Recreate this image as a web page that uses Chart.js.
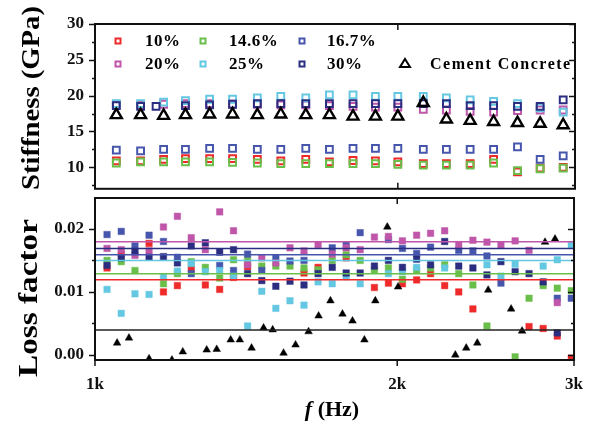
<!DOCTYPE html>
<html>
<head>
<meta charset="utf-8">
<title>Stiffness and loss factor vs frequency</title>
<script src="https://cdn.jsdelivr.net/npm/chart.js@4"></script>
<style>
  html, body { margin: 0; padding: 0; background: #fff; }
  #wrap { position: relative; width: 597px; height: 425px; }
  #wrap canvas { position: absolute; left: 0; top: 0; }
</style>
</head>
<body>
<div id="wrap">
  <canvas id="lossChart" width="597" height="425"></canvas>
  <canvas id="stiffChart" width="597" height="210"></canvas>
</div>
<script>
'use strict';

// ---- data
const seriesLabels = ['10%', '14.6%', '16.7%', '20%', '25%', '30%', 'Cement Concrete'];
const seriesColors = ['#ee2a2a', '#6abf4b', '#4656ac', '#bf56a9', '#64c8e2', '#2b2d80', '#000000'];

const freqTicks = [1000, 2000, 3000];
const stiffTicks = [10, 15, 20, 25, 30];
const stiffMinor = [7.5, 12.5, 17.5, 22.5, 27.5];
const lossTicks = [0, 0.01, 0.02];
const lossMinor = [0.005, 0.015];

// stiffness (GPa)
const stiffFreq = [1050, 1110, 1170, 1230, 1300, 1370, 1450, 1530, 1620, 1710, 1805, 1900, 2000, 2120, 2235, 2360, 2490, 2630, 2770, 2920];
const stiffFreq30 = [1050, 1110, 1150, 1230, 1300, 1370, 1450, 1530, 1620, 1710, 1805, 1900, 2000, 2120, 2235, 2360, 2490, 2630, 2770, 2920];
const stiff10 = [10.9, 10.9, 11.1, 11.2, 11.2, 11.2, 11.1, 10.9, 11.1, 10.75, 10.95, 10.9, 10.75, 10.5, 10.5, 10.5, 11.1, 9.35, 9.9, 10.0];
const stiff146 = [10.6, 10.75, 10.75, 10.75, 10.75, 10.7, 10.6, 10.5, 10.5, 10.5, 10.5, 10.5, 10.4, 10.3, 10.3, 10.3, 10.6, 9.55, 9.8, 9.9];
const stiff167 = [12.4, 12.3, 12.5, 12.5, 12.65, 12.65, 12.5, 12.5, 12.65, 12.5, 12.65, 12.65, 12.65, 12.5, 12.5, 12.5, 12.5, 12.85, 11.1, 11.6];
const stiff20 = [18.7, 18.7, 18.8, 18.9, 18.9, 18.8, 18.8, 18.7, 18.7, 18.6, 18.5, 18.4, 18.4, 18.1, 18.0, 17.8, 17.7, 17.9, 18.0, 18.0];
const stiff25 = [18.9, 18.9, 19.1, 19.3, 19.5, 19.5, 19.7, 19.9, 19.7, 20.1, 20.1, 19.9, 19.9, 19.9, 19.7, 19.4, 19.2, 18.9, 18.3, 17.7];
const stiff30 = [18.6, 18.5, 18.5, 18.6, 18.7, 18.8, 18.9, 18.9, 18.9, 18.9, 18.9, 18.9, 18.9, 18.9, 18.9, 18.6, 18.6, 18.5, 18.5, 19.4];
const stiffCement = [17.3, 17.3, 17.2, 17.3, 17.4, 17.4, 17.3, 17.4, 17.3, 17.3, 17.1, 17.1, 17.1, 19.0, 16.7, 16.5, 16.35, 16.2, 16.1, 15.9];

// loss factor
const lossFreq = [1028, 1062, 1096, 1132, 1170, 1208, 1247, 1288, 1331, 1374, 1419, 1466, 1514, 1564, 1615, 1668, 1723,
  1779, 1837, 1898, 1960, 2024, 2091, 2159, 2230, 2303, 2379, 2457, 2537, 2621, 2706, 2795, 2887, 2981];
const loss10 = [0.0138, 0.0160, null, 0.0177, 0.0100, 0.0110, 0.0137, 0.0111, 0.0104, 0.0123, 0.0140, null, null, null, 0.0130, 0.0139, null,
  0.0154, null, 0.0107, 0.0114, 0.0113, 0.0119, 0.0129, 0.0110, 0.0100, 0.0073, null, null, null, 0.0045, 0.0042, 0.0030, -0.0005];
const loss146 = [0.0150, 0.0148, 0.0134, null, 0.0113, 0.0129, 0.0148, 0.0139, 0.0122, 0.0151, 0.0150, 0.0141, 0.0141, 0.0141, 0.0138, 0.0135, 0.0150,
  0.0159, 0.0150, 0.0135, 0.0138, 0.0120, 0.0134, 0.0138, 0.0143, 0.0129, 0.0111, 0.0046, null, -0.0003, 0.0090, 0.0110, 0.0106, 0.0102];
const loss167 = [0.0191, 0.0196, 0.0173, 0.0190, 0.0180, 0.0155, 0.0129, null, 0.0142, 0.0134, 0.0160, 0.0134, 0.0154, 0.0149, 0.0150, null, 0.0170,
  0.0174, 0.0194, null, 0.0183, 0.0169, 0.0161, 0.0171, null, 0.0166, 0.0165, 0.0157, 0.0114, null, null, null, 0.0090, 0.0090];
const loss20 = [0.0169, 0.0167, 0.0158, 0.0165, 0.0203, 0.0220, 0.0186, 0.0167, 0.0227, 0.0197, 0.0143, 0.0154, 0.0146, 0.0170, 0.0165, 0.0175, 0.0160,
  0.0170, 0.0167, 0.0187, 0.0188, 0.0181, 0.0190, 0.0193, 0.0197, 0.0175, 0.0182, 0.0179, 0.0174, 0.0181, 0.0166, null, 0.0083, null];
const loss25 = [0.0104, 0.0066, 0.0097, 0.0096, 0.0124, 0.0133, 0.0145, 0.0132, 0.0134, 0.0125, 0.0046, 0.0101, 0.0074, 0.0086, 0.0079, 0.0116, 0.0113,
  0.0124, 0.0113, null, 0.0129, 0.0132, 0.0139, null, 0.0138, null, null, 0.0143, 0.0125, 0.0144, null, 0.0141, 0.0151, 0.0175];
const loss30 = [0.0142, 0.0154, 0.0164, 0.0155, 0.0156, 0.0146, 0.0173, 0.0178, 0.0163, 0.0167, 0.0129, 0.0118, 0.0109, 0.0117, 0.0111, 0.0129, 0.0139,
  0.0130, 0.0130, 0.0141, 0.0150, 0.0139, 0.0152, 0.0143, 0.0180, 0.0141, 0.0138, 0.0127, 0.0148, 0.0132, 0.0129, 0.0116, 0.0035, null];
const cementFreq = [1052, 1081, 1132, 1193, 1223, 1292, 1322, 1365, 1394, 1432, 1472, 1503, 1541, 1584, 1632, 1670,
  1716, 1764, 1805, 1855, 1902, 1955, 2004, 2285, 2343, 2403, 2464, 2597, 2663, 2807, 2872];
const lossCement = [0.0019, 0.0027, -0.0006, -0.0008, 0.0005, 0.0008, 0.0009, 0.0024, 0.0024, 0.0011, 0.0043, 0.0040, 0.0003, 0.0016, 0.0037, 0.0062,
  0.0086, 0.0065, 0.0054, 0.0024, 0.0086, 0.0203, 0.0108, 0.0000, 0.0011, 0.0019, 0.0103, 0.0073, 0.0038, 0.0179, 0.0184];
// mean loss factor lines, same order as seriesLabels
const lossMean = [0.01195, 0.0129, 0.0159, 0.01794, 0.01497, 0.01687, 0.00397];

const SERIF = '"Liberation Serif", "Times New Roman", serif';

const stiffX = [stiffFreq, stiffFreq, stiffFreq, stiffFreq, stiffFreq, stiffFreq30, stiffFreq];
const stiffY = [stiff10, stiff146, stiff167, stiff20, stiff25, stiff30, stiffCement];
const lossX = [lossFreq, lossFreq, lossFreq, lossFreq, lossFreq, lossFreq, cementFreq];
const lossY = [loss10, loss146, loss167, loss20, loss25, loss30, lossCement];

function points(xs, ys) {
  return ys.map((v, i) => ({ x: xs[i], y: v })).filter(p => p.y !== null);
}

function fade(hex, a) {
  const n = parseInt(hex.slice(1), 16);
  return `rgba(${n >> 16},${(n >> 8) & 255},${n & 255},${a})`;
}

// ---- frame, inward/outward ticks and minor ticks
const framePlugin = {
  id: 'frame',
  afterDatasetsDraw(chart, args, o) {
    const { ctx, chartArea: a } = chart;
    const xs = chart.scales.x, ys = chart.scales.y;
    ctx.save();
    ctx.strokeStyle = '#111';
    ctx.lineWidth = 1.5;
    const seg = (x1, y1, x2, y2) => { ctx.beginPath(); ctx.moveTo(x1, y1); ctx.lineTo(x2, y2); ctx.stroke(); };
    o.yMajor.forEach(v => {
      const p = Math.round(ys.getPixelForValue(v)) + 0.5;
      seg(a.left - 6, p, a.left, p);
      seg(a.right, p, a.right - 6, p);
    });
    o.yMinor.forEach(v => {
      const p = Math.round(ys.getPixelForValue(v)) + 0.5;
      seg(a.left - 3, p, a.left, p);
      seg(a.right, p, a.right - 3, p);
    });
    o.xTop.forEach(v => {
      const p = xs.getPixelForValue(v);
      seg(p, a.top, p, a.top + 6);
    });
    o.xBottomIn.forEach(v => {
      const p = xs.getPixelForValue(v);
      seg(p, a.bottom, p, a.bottom - 6);
    });
    o.xBottomOut.forEach(v => {
      const p = xs.getPixelForValue(v);
      seg(p, a.bottom, p, a.bottom + 6);
    });
    ctx.lineWidth = 2;
    ctx.strokeRect(a.left, a.top, a.right - a.left, a.bottom - a.top);
    ctx.restore();
  }
};

// ---- rotated / mixed-style axis titles
const titlePlugin = {
  id: 'titles',
  afterDraw(chart, args, o) {
    const { ctx } = chart;
    ctx.save();
    ctx.fillStyle = '#000';
    if (o.y) {
      ctx.font = `bold ${o.y.size}px ${SERIF}`;
      const w = ctx.measureText(o.y.text).width;
      ctx.translate(o.y.cx, o.y.cy);
      ctx.rotate(-Math.PI / 2);
      ctx.scale(o.y.len / w, 1);
      ctx.textAlign = 'center';
      ctx.textBaseline = 'middle';
      ctx.fillText(o.y.text, 0, 0);
    }
    ctx.restore();
    if (o.x) {
      ctx.save();
      ctx.fillStyle = '#000';
      ctx.textBaseline = 'alphabetic';
      ctx.font = `italic bold ${o.x.size}px ${SERIF}`;
      const w1 = ctx.measureText(o.x.italic).width;
      ctx.font = `bold ${o.x.size}px ${SERIF}`;
      const w2 = ctx.measureText(o.x.text).width;
      const x0 = o.x.cx - (w1 + w2) / 2;
      ctx.font = `italic bold ${o.x.size}px ${SERIF}`;
      ctx.fillText(o.x.italic, x0, o.x.base);
      ctx.font = `bold ${o.x.size}px ${SERIF}`;
      ctx.fillText(o.x.text, x0 + w1, o.x.base);
      ctx.restore();
    }
  }
};

// ---- legend drawn inside the stiffness panel
const legendPlugin = {
  id: 'boxLegend',
  afterDraw(chart, args, o) {
    const { ctx } = chart;
    ctx.save();
    ctx.textBaseline = 'middle';
    ctx.fillStyle = '#000';
    o.items.forEach(it => {
      const color = seriesColors[it.i];
      ctx.strokeStyle = color;
      ctx.lineWidth = 2;
      if (it.i === 6) {
        ctx.beginPath();
        ctx.moveTo(it.mx, it.y - 5);
        ctx.lineTo(it.mx + 5, it.y + 3);
        ctx.lineTo(it.mx - 5, it.y + 3);
        ctx.closePath();
        ctx.stroke();
        ctx.font = `bold 16px ${SERIF}`;
        ctx.letterSpacing = '1.5px';
      } else {
        ctx.strokeRect(it.mx - 2.5, it.y - 2.5, 5, 5);
        ctx.font = `bold 17px ${SERIF}`;
        ctx.letterSpacing = '0.5px';
      }
      ctx.fillText(seriesLabels[it.i], it.tx, it.y + 1);
    });
    ctx.restore();
  }
};

const tickFont = { family: SERIF, size: 17, weight: 'bold' };

// ---- top panel: stiffness
new Chart(document.getElementById('stiffChart'), {
  type: 'scatter',
  data: {
    datasets: seriesLabels.map((name, i) => ({
      label: name,
      data: points(stiffX[i], stiffY[i]),
      pointStyle: i === 6 ? 'triangle' : 'rect',
      pointRadius: i === 6 ? 6.3 : 4.8,
      borderWidth: i === 6 ? 2.4 : 2,
      borderColor: seriesColors[i],
      backgroundColor: 'rgba(0,0,0,0)',
      order: 7 - i,
      clip: 0
    }))
  },
  options: {
    responsive: false,
    animation: false,
    events: [],
    layout: { padding: { left: 0, right: 22, top: 24, bottom: 0 } },
    plugins: {
      legend: { display: false },
      tooltip: { enabled: false },
      frame: { yMajor: stiffTicks, yMinor: stiffMinor, xTop: [2000], xBottomIn: [2000], xBottomOut: [] },
      titles: { y: { text: 'Stiffness (GPa)', size: 26, cx: 32, cy: 98, len: 184 } },
      boxLegend: {
        items: [
          { i: 0, mx: 118, tx: 145, y: 41 }, { i: 1, mx: 203, tx: 229, y: 41 }, { i: 2, mx: 302, tx: 327, y: 41 },
          { i: 3, mx: 118, tx: 145, y: 64 }, { i: 4, mx: 203, tx: 229, y: 64 }, { i: 5, mx: 302, tx: 327, y: 64 },
          { i: 6, mx: 405, tx: 430, y: 64 }
        ]
      }
    },
    scales: {
      x: {
        type: 'logarithmic', min: 1000, max: 3000,
        afterFit: s => { s.height = 12; },
        grid: { display: false, drawTicks: false },
        border: { display: false },
        ticks: { display: false }
      },
      y: {
        min: 7, max: 30,
        afterFit: s => { s.width = 95; },
        afterBuildTicks: s => { s.ticks = stiffTicks.map(v => ({ value: v })); },
        grid: { display: false, drawTicks: false },
        border: { display: false },
        ticks: { padding: 11, color: '#111', font: tickFont }
      }
    }
  },
  plugins: [framePlugin, titlePlugin, legendPlugin]
});

// ---- bottom panel: loss factor
const lossSets = seriesLabels.map((name, i) => ({
  label: name,
  data: points(lossX[i], lossY[i]),
  pointStyle: i === 6 ? 'triangle' : 'rect',
  pointRadius: i === 6 ? 4.4 : 4.6,
  borderWidth: 1,
  borderColor: fade(seriesColors[i], 0.45),
  backgroundColor: seriesColors[i],
  order: 8 - i,
  clip: 0
}));
const meanSets = lossMean.map((v, i) => ({
  type: 'line',
  label: seriesLabels[i] + ' mean',
  data: [{ x: 1000, y: v }, { x: 3000, y: v }],
  borderColor: i === 6 ? '#222' : seriesColors[i],
  borderWidth: 1.5,
  pointRadius: 0,
  order: 0,
  clip: 0
}));

new Chart(document.getElementById('lossChart'), {
  type: 'scatter',
  data: { datasets: lossSets.concat(meanSets) },
  options: {
    responsive: false,
    animation: false,
    events: [],
    layout: { padding: { left: 0, right: 22, top: 198, bottom: 0 } },
    plugins: {
      legend: { display: false },
      tooltip: { enabled: false },
      frame: { yMajor: lossTicks, yMinor: lossMinor, xTop: [2000], xBottomIn: [], xBottomOut: freqTicks },
      titles: {
        y: { text: 'Loss factor', size: 27, cx: 30, cy: 298, len: 158 },
        x: { italic: 'f', text: ' (Hz)', size: 22, cx: 332, base: 416 }
      }
    },
    scales: {
      x: {
        type: 'logarithmic', min: 1000, max: 3000,
        afterFit: s => { s.height = 65; },
        afterBuildTicks: s => { s.ticks = freqTicks.map(v => ({ value: v })); },
        grid: { display: false, drawTicks: false },
        border: { display: false },
        ticks: { padding: 14, color: '#111', font: tickFont, autoSkip: false, maxRotation: 0, callback: v => (v / 1000) + 'k' }
      },
      y: {
        min: -0.0008, max: 0.0249,
        afterFit: s => { s.width = 95; },
        afterBuildTicks: s => { s.ticks = lossTicks.map(v => ({ value: v })); },
        grid: { display: false, drawTicks: false },
        border: { display: false },
        ticks: { padding: 11, color: '#111', font: tickFont, callback: v => v.toFixed(2) }
      }
    }
  },
  plugins: [framePlugin, titlePlugin]
});
</script>
</body>
</html>
